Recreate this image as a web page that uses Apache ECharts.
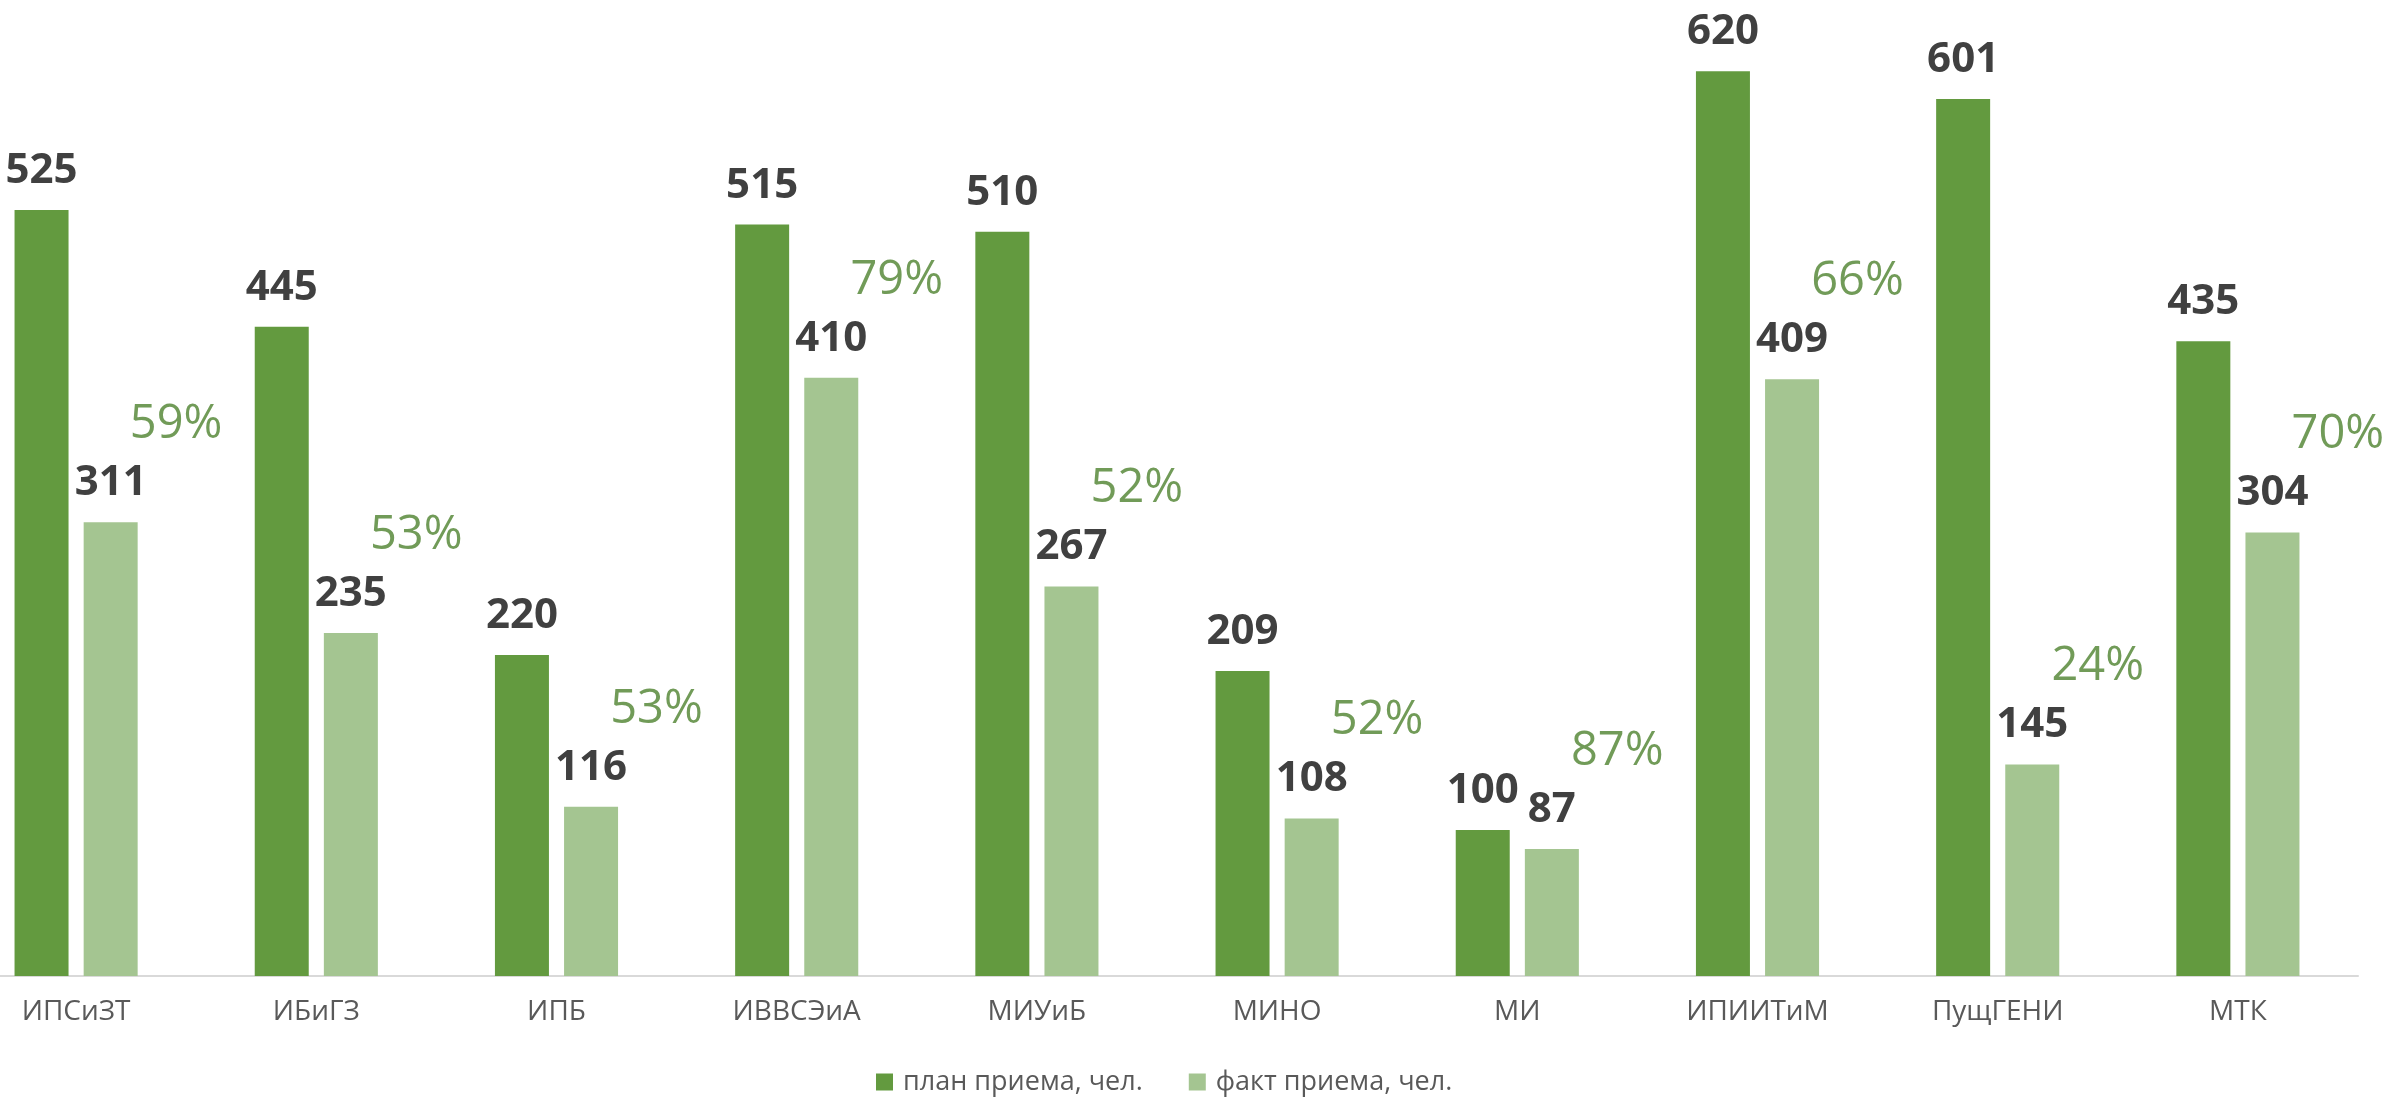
<!DOCTYPE html>
<html>
	<head>
		<meta charset="utf-8" />
		<title>прием</title>
		<script src="https://cdn.jsdelivr.net/npm/echarts@6/dist/echarts.min.js"></script>
		<style>
			html, body { margin: 0; padding: 0; background: #fff; }
			#chart { width: 2397px; height: 1098px; }
		</style>
	</head>
	<body>
		<div id="chart"></div>
	</body>

	<script type="text/javascript">

	var institutes = ['ИПСиЗТ', 'ИБиГЗ', 'ИПБ', 'ИВВСЭиА', 'МИУиБ', 'МИНО', 'МИ', 'ИПИИТиМ', 'ПущГЕНИ', 'МТК'];
	var planValues = [525, 445, 220, 515, 510, 209, 100, 620, 601, 435];
	var factValues = [311, 235, 116, 410, 267, 108, 87, 409, 145, 304];
	// процент выполнения плана, как подписано на картинке
	var percentValues = [59, 53, 53, 79, 52, 52, 87, 66, 24, 70];

	var darkGreen = '#639a3f';
	var lightGreen = '#a4c591';
	var font = '"Open Sans", "Noto Sans", sans-serif';

	var valueLabel = {
		show: true,
		position: 'top',
		distance: 18,
		color: '#404040',
		fontFamily: font,
		fontWeight: 'bold',
		fontSize: 42
	};

	var myChart = echarts.init(document.getElementById('chart'));

	var option = {
		backgroundColor: '#ffffff',
		animation: false,
		grid: {
			left: -44,
			right: 39,
			top: 27.6,
			bottom: 122,
			outerBoundsMode: 'none'
		},
		legend: {
			data: ['план приема, чел.', 'факт приема, чел.'],
			left: 871,
			top: 1062,
			icon: 'rect',
			itemWidth: 17,
			itemHeight: 17,
			itemGap: 46,
			textStyle: {
				color: '#595959',
				fontFamily: font,
				fontSize: 27,
				lineHeight: 30,
				padding: [0, 0, 0, 5]
			}
		},
		xAxis: {
			type: 'category',
			data: institutes,
			axisLine: { lineStyle: { color: '#d9d9d9', width: 2 } },
			axisTick: { show: false },
			axisLabel: {
				color: '#595959',
				fontFamily: font,
				fontSize: 28,
				margin: 22
			}
		},
		yAxis: {
			type: 'value',
			min: 0,
			max: 650,
			show: false,
			splitLine: { show: false }
		},
		series: [
			{
				name: 'план приема, чел.',
				type: 'bar',
				barWidth: 54,
				barGap: '28%',
				itemStyle: { color: darkGreen },
				label: valueLabel,
				data: planValues
			},
			{
				name: 'факт приема, чел.',
				type: 'bar',
				barWidth: 54,
				itemStyle: { color: lightGreen },
				label: valueLabel,
				data: factValues
			},
			{
				// подписи процентов над фактом
				name: 'pct',
				type: 'scatter',
				symbolSize: 0,
				silent: true,
				label: {
					show: true,
					position: 'top',
					distance: 74,
					offset: [100, 0],
					color: '#4d822e',
					fontFamily: font,
					fontSize: 47,
					formatter: function (p) {
						return percentValues[p.dataIndex] + '%';
					}
				},
				data: factValues
			}
		]
	};

	myChart.setOption(option);

	</script>
</html>
